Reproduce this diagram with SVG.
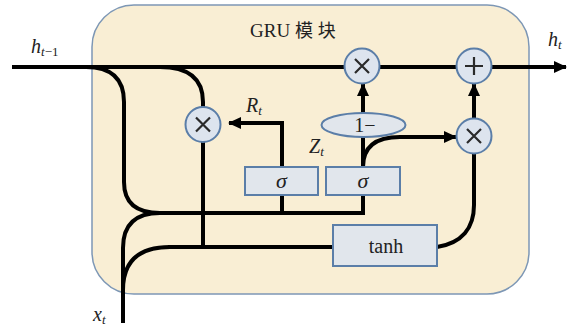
<svg xmlns="http://www.w3.org/2000/svg" width="571" height="327" viewBox="0 0 571 327">
  <style>
    .wire { fill: none; stroke: #000; stroke-width: 4; }
    .box { fill: #e1e6ec; stroke: #5b7ea8; stroke-width: 2; }
    .op { fill: #dde4ee; stroke: #5b7ea8; stroke-width: 2; }
    .sym { stroke: #2a2a2a; stroke-width: 2.2; fill: none; }
    .lbl { font-family: "Liberation Serif", "DejaVu Serif", serif; fill: #222; }
    .it { font-style: italic; }
  </style>
  <defs>
    <marker id="arrow" markerUnits="userSpaceOnUse" markerWidth="14" markerHeight="14" refX="12" refY="7" orient="auto">
      <path d="M0,1 L13,7 L0,13 Z" fill="#000"/>
    </marker>
  </defs>

  <!-- GRU cell container -->
  <g id="cell">
    <rect x="92" y="5" width="437" height="289" rx="42" ry="42" fill="#f9eed4" stroke="#7d97b5" stroke-width="1.5"/>
    <text class="lbl" x="250" y="37" font-size="19">GRU <tspan font-family="'Noto Sans CJK SC', sans-serif" font-size="18" letter-spacing="5">模块</tspan></text>
  </g>

  <!-- connectors -->
  <g id="connectors">
    <!-- hidden state path -->
    <path class="wire" d="M12,67 H566" marker-end="url(#arrow)"/>
    <!-- h(t-1) branch down into the gate inputs -->
    <path class="wire" d="M86,67 Q124,67 124,102 V182 Q124,213 160,213"/>
    <!-- h(t-1) branch to reset multiply -->
    <path class="wire" d="M160,67 Q203,67 203,102 V107"/>
    <!-- reset product down to candidate input -->
    <path class="wire" d="M203,142 V247"/>
    <!-- x(t) input -->
    <path class="wire" d="M123,323 V248 Q123,213 160,213"/>
    <path class="wire" d="M123,290 Q123,247 170,247"/>
    <!-- gate input bus -->
    <path class="wire" d="M158,213 H363 V195"/>
    <path class="wire" d="M282,213 V195"/>
    <!-- reset gate output R_t -->
    <path class="wire" d="M282,167 V123 H229" marker-end="url(#arrow)"/>
    <!-- update gate output Z_t -->
    <path class="wire" d="M363,167 V137"/>
    <path class="wire" d="M363,113 V84" marker-end="url(#arrow)"/>
    <path class="wire" d="M363,167 C363,146 376,137 400,137 H456" marker-end="url(#arrow)"/>
    <!-- candidate input -->
    <path class="wire" d="M168,247 H333"/>
    <!-- candidate output -->
    <path class="wire" d="M437,247 C462,243 474,228 474,205 V154"/>
    <path class="wire" d="M474,118 V84" marker-end="url(#arrow)"/>
  </g>

  <!-- reset multiply -->
  <g id="mul-reset">
    <circle class="op" cx="203" cy="124.5" r="17.5"/>
    <path class="sym" d="M196,117.5 L210,131.5 M210,117.5 L196,131.5"/>
  </g>

  <!-- (1 - z) * h multiply -->
  <g id="mul-keep">
    <circle class="op" cx="362" cy="66" r="17.5"/>
    <path class="sym" d="M355,59 L369,73 M369,59 L355,73"/>
  </g>

  <!-- sum -->
  <g id="add">
    <circle class="op" cx="474" cy="66" r="17.5"/>
    <path class="sym" d="M474,57 V75 M465,66 H483"/>
  </g>

  <!-- z * candidate multiply -->
  <g id="mul-update">
    <circle class="op" cx="474" cy="136" r="17.5"/>
    <path class="sym" d="M467,129 L481,143 M481,129 L467,143"/>
  </g>

  <!-- 1 - z -->
  <g id="one-minus">
    <ellipse class="box" cx="363.5" cy="125" rx="42" ry="12"/>
    <text class="lbl" x="365" y="132" font-size="20" text-anchor="middle">1−</text>
  </g>

  <!-- reset gate -->
  <g id="sigma-reset">
    <rect class="box" x="245" y="167" width="73" height="28"/>
    <text class="lbl it" x="281.5" y="188" font-size="22" text-anchor="middle">σ</text>
  </g>

  <!-- update gate -->
  <g id="sigma-update">
    <rect class="box" x="326" y="167" width="74" height="28"/>
    <text class="lbl it" x="363" y="188" font-size="22" text-anchor="middle">σ</text>
  </g>

  <!-- candidate -->
  <g id="tanh">
    <rect class="box" x="333" y="225" width="104" height="41"/>
    <text class="lbl" x="386" y="253" font-size="20" text-anchor="middle">tanh</text>
  </g>

  <!-- labels -->
  <g id="labels">
    <text class="lbl" x="31" y="53" font-size="20"><tspan class="it">h</tspan><tspan class="it" font-size="13" dy="3">t</tspan><tspan font-size="13">−1</tspan></text>
    <text class="lbl" x="548" y="46" font-size="20"><tspan class="it">h</tspan><tspan class="it" font-size="13" dy="3">t</tspan></text>
    <text class="lbl" x="246" y="112" font-size="20"><tspan class="it">R</tspan><tspan class="it" font-size="13" dy="3">t</tspan></text>
    <text class="lbl" x="309" y="153" font-size="20"><tspan class="it">Z</tspan><tspan class="it" font-size="13" dy="3">t</tspan></text>
    <text class="lbl" x="93" y="321" font-size="20"><tspan class="it">x</tspan><tspan class="it" font-size="13" dy="3">t</tspan></text>
  </g>
</svg>
